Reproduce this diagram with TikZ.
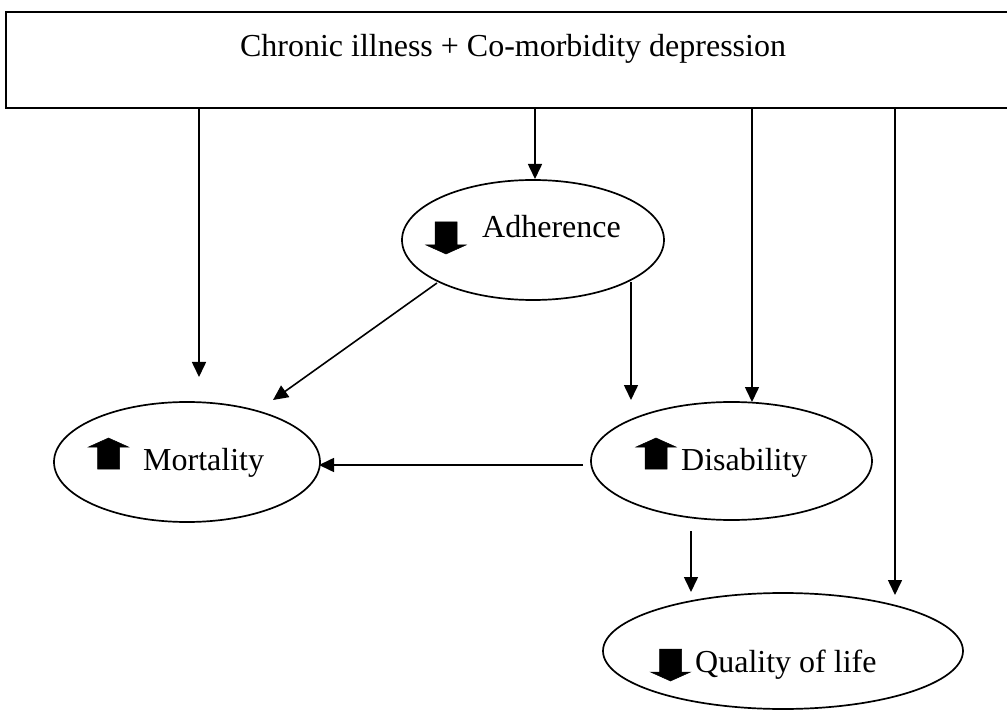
\documentclass[tikz,border=0pt]{standalone}
\usepackage{fontspec}
\setmainfont{Liberation Serif}
\usetikzlibrary{arrows.meta,shapes.geometric}
\begin{document}
\begin{tikzpicture}[x=1pt,y=-1pt,
  conn/.style={line width=1.6pt,-{Triangle[length=15pt,width=14pt]}},
  oval/.style={ellipse,draw,line width=1.7pt,inner sep=0pt},
  lbl/.style={inner sep=0pt,anchor=base west,font=\fontsize{32}{38}\selectfont},
  icon/.style={fill=black,draw=black,line width=0.5pt},
  upicon/.pic={\path[icon] (-11,0) -- (11,0) -- (11,-22) -- (20,-22) -- (0,-31) -- (-20,-22) -- (-11,-22) -- cycle;},
  downicon/.pic={\path[icon] (-11,0) -- (11,0) -- (11,23) -- (20,23) -- (0,32) -- (-20,23) -- (-11,23) -- cycle;}
]
\useasboundingbox (0,0) rectangle (1007,711);
\clip (0,0) rectangle (1007,711);
\fill[white] (0,0) rectangle (1007,711);

% top box
\node[draw,line width=1.8pt,minimum width=1009pt,minimum height=96pt,inner sep=0pt] (box) at (510.5,60) {};
\node[inner sep=0pt,anchor=base,font=\fontsize{32}{38}\selectfont] (title) at (513,57) {Chronic illness + Co-morbidity depression};

% ellipses
\node[oval,minimum width=262pt,minimum height=120pt] (adh) at (533,240) {};
\node[oval,minimum width=266pt,minimum height=120pt] (mort) at (187,462) {};
\node[oval,minimum width=281pt,minimum height=118pt] (dis) at (731.5,461) {};
\node[oval,minimum width=360pt,minimum height=116pt] (qol) at (783,651) {};

% labels
\node[lbl] (adht) at (482,238) {Adherence};
\node[lbl] (mortt) at (143,470) {Mortality};
\node[lbl] (dist) at (681,470) {Disability};
\node[lbl] (qolt) at (695,672) {Quality of life};

% icons
\pic at (446,222) {downicon};
\pic at (108.5,469) {upicon};
\pic at (656,469) {upicon};
\pic at (670.5,649) {downicon};

% connector end points
\coordinate (e1) at (199,377);
\coordinate (e2) at (535,179);
\coordinate (e3) at (752,402);
\coordinate (e4) at (895,595);
\coordinate (s5) at (437,283);
\coordinate (e5) at (273,400);
\coordinate (s6) at (631,282);
\coordinate (e6) at (631,400);
\coordinate (s7) at (583,465);
\coordinate (e7) at (319,465);
\coordinate (s8) at (691,531);
\coordinate (e8) at (691,592);

\draw[conn] (box.south -| e1) -- (e1);
\draw[conn] (box.south -| e2) -- (e2);
\draw[conn] (box.south -| e3) -- (e3);
\draw[conn] (box.south -| e4) -- (e4);
\draw[conn] (s5) -- (e5);
\draw[conn] (s6) -- (e6);
\draw[conn] (s7) -- (e7);
\draw[conn] (s8) -- (e8);
\end{tikzpicture}
\end{document}
